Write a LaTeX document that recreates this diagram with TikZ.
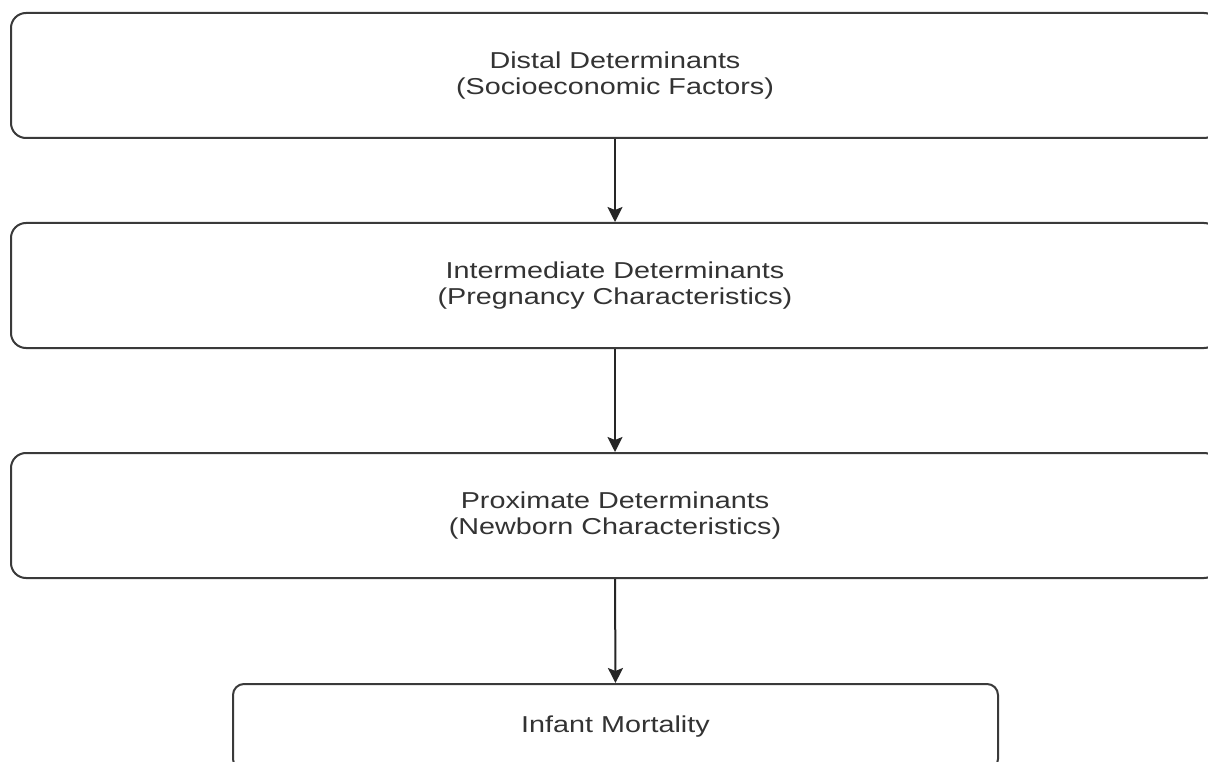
\documentclass[tikz,border=0pt]{standalone}
\usepackage{fontspec}
\setmainfont{Liberation Sans}[FakeStretch=1.25]
\usetikzlibrary{arrows.meta}
\definecolor{boxline}{HTML}{3A3A3A}
\definecolor{txt}{HTML}{333333}
\begin{document}
\begin{tikzpicture}[x=1pt,y=-1pt,
  bigbox/.style={draw=boxline, line width=2pt, rounded corners=15pt, fill=white,
    minimum width=1208pt, minimum height=125pt, align=center, text=txt,
    font=\fontsize{23pt}{26pt}\selectfont, inner sep=0pt},
  smallbox/.style={bigbox, rounded corners=11pt, minimum width=765pt, minimum height=86pt},
  arr/.style={draw=black!85, line width=2pt, -{Stealth[length=15pt,width=15pt,inset=3pt]}}]
\useasboundingbox (0,0) rectangle (1208,762);
\clip (0,0) rectangle (1208,762);
\fill[white] (0,0) rectangle (1208,762);
\node[bigbox] (b1) at (615,75.5) {Distal Determinants\\(Socioeconomic Factors)};
\node[bigbox] (b2) at (615,285.5) {Intermediate Determinants\\(Pregnancy Characteristics)};
\node[bigbox] (b3) at (615,515.5) {Proximate Determinants\\(Newborn Characteristics)};
\node[smallbox] (b4) at (615.5,727) {Infant Mortality};
\draw[arr] (b1.south) -- (b2.north);
\draw[arr] (b2.south) -- (b3.north);
\draw[arr] (b3.south) -- (b4.north);
\end{tikzpicture}
\end{document}
